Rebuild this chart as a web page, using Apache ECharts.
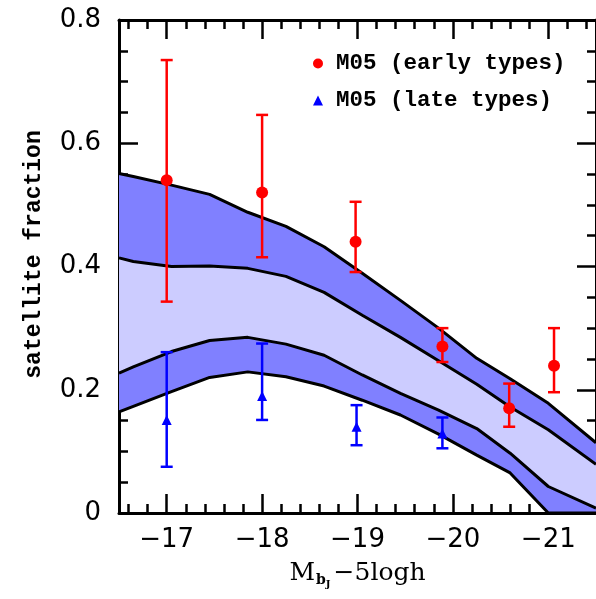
<!DOCTYPE html>
<html>
<head>
<meta charset="utf-8">
<script src="https://cdn.jsdelivr.net/npm/echarts@6/dist/echarts.min.js"></script>
<style>
  html, body { margin: 0; padding: 0; background: #fff; }
  #main { width: 596px; height: 599px; }
</style>
</head>
<body>
<div id="main"></div>
<script>
// model bands, sampled at bandX (magnitudes)
var bandX      = [-16.5, -16.65, -17.05, -17.45, -17.85, -18.25, -18.65, -19.05, -19.45, -19.85, -20.25, -20.6, -21.0, -21.5];
var outerUpper = [0.551, 0.546, 0.532, 0.517, 0.488, 0.465, 0.432, 0.389, 0.345, 0.300, 0.251, 0.218, 0.178, 0.114];
var innerUpper = [0.414, 0.408, 0.400, 0.401, 0.397, 0.384, 0.358, 0.321, 0.285, 0.247, 0.209, 0.172, 0.135, 0.079];
var innerLower = [0.227, 0.237, 0.262, 0.280, 0.285, 0.274, 0.256, 0.224, 0.194, 0.167, 0.137, 0.097, 0.043, 0.008];
var outerLower = [0.164, 0.173, 0.197, 0.220, 0.229, 0.221, 0.206, 0.183, 0.159, 0.128, 0.094, 0.065, 0.000, 0.000];

// M05 early types
var earlyX  = [-17.0, -18.0, -18.98, -19.89, -20.59, -21.06];
var earlyY  = [0.540, 0.520, 0.440, 0.270, 0.170, 0.239];
var earlyLo = [0.343, 0.415, 0.391, 0.245, 0.140, 0.196];
var earlyHi = [0.735, 0.646, 0.505, 0.300, 0.210, 0.300];

// M05 late types
var lateX  = [-17.0, -18.0, -18.99, -19.89];
var lateY  = [0.151, 0.190, 0.140, 0.129];
var lateLo = [0.075, 0.151, 0.110, 0.105];
var lateHi = [0.261, 0.275, 0.175, 0.155];

var DARK = '#8080ff', LIGHT = '#ccccff';
var chart = echarts.init(document.getElementById('main'));

function pairs(xs, ys) {
  return xs.map(function (x, i) { return [x, ys[i]]; });
}

// filled region between two sampled curves
function band(upper, lower, fill) {
  return {
    type: 'custom', z: 1, silent: true, clip: true,
    data: [[bandX[0], lower[0]]],
    renderItem: function (params, api) {
      var pts = [], i;
      for (i = 0; i < bandX.length; i++) pts.push(api.coord([bandX[i], upper[i]]));
      for (i = bandX.length - 1; i >= 0; i--) pts.push(api.coord([bandX[i], lower[i]]));
      return { type: 'polygon', shape: { points: pts }, style: { fill: fill, stroke: null } };
    }
  };
}
function curve(vals) {
  return {
    type: 'line', data: pairs(bandX, vals), symbol: 'none', silent: true, z: 3,
    lineStyle: { color: '#000', width: 3 }
  };
}
function errorBars(xs, lo, hi, color) {
  return {
    type: 'custom', z: 5, silent: true,
    encode: { x: 0, y: [1, 2] },
    data: xs.map(function (x, i) { return [x, lo[i], hi[i]]; }),
    renderItem: function (params, api) {
      var x = api.value(0);
      var p0 = api.coord([x, api.value(1)]);
      var p1 = api.coord([x, api.value(2)]);
      var w = 6;
      var st = { stroke: color, lineWidth: 2.5 };
      return {
        type: 'group', children: [
          { type: 'line', shape: { x1: p0[0], y1: p0[1], x2: p1[0], y2: p1[1] }, style: st },
          { type: 'line', shape: { x1: p0[0] - w, y1: p0[1], x2: p0[0] + w, y2: p0[1] }, style: st },
          { type: 'line', shape: { x1: p1[0] - w, y1: p1[1], x2: p1[0] + w, y2: p1[1] }, style: st }
        ]
      };
    }
  };
}

var tickLine = { color: '#000', width: 2.5 };
var labelFont = { color: '#000', fontFamily: 'DejaVu Sans', fontSize: 26 };

function xAxisCfg(pos) {
  var isBottom = pos === 'bottom';
  return {
    type: 'value', position: pos, min: -21.5, max: -16.5, inverse: true,
    axisLine: { show: true, onZero: false, lineStyle: { color: '#000', width: 3 } },
    axisTick: { inside: true, length: 19, lineStyle: tickLine },
    minorTick: { show: true, splitNumber: 5, length: 9, lineStyle: tickLine },
    splitLine: { show: false },
    axisLabel: Object.assign({
      show: isBottom, margin: 14, showMinLabel: false, showMaxLabel: false,
      formatter: function (v) {
        return Math.abs(v - Math.round(v)) < 1e-6 ? '\u2212' + Math.abs(Math.round(v)) : '';
      }
    }, labelFont),
    name: isBottom ? '{m|M}{s|b}{j|J}{m|\u22125logh}' : '',
    nameLocation: 'middle', nameGap: 44,
    nameTextStyle: {
      color: '#000',
      rich: {
        m: { fontFamily: 'DejaVu Serif', fontSize: 25, color: '#000' },
        s: { fontFamily: 'DejaVu Serif', fontSize: 14, fontWeight: 'bold', color: '#000', padding: [15, 0, 0, 1] },
        j: { fontFamily: 'DejaVu Serif', fontSize: 10, fontWeight: 'bold', color: '#000', padding: [22, 3, 0, 0] }
      }
    }
  };
}
function yAxisCfg(pos) {
  var isLeft = pos === 'left';
  return {
    type: 'value', position: pos, min: 0, max: 0.8, interval: 0.2,
    axisLine: { show: true, onZero: false, lineStyle: { color: '#000', width: 3 } },
    axisTick: { inside: true, length: 19, lineStyle: tickLine },
    minorTick: { show: true, splitNumber: 4, length: 9, lineStyle: tickLine },
    splitLine: { show: false },
    axisLabel: Object.assign({
      show: isLeft, margin: 18,
      formatter: function (v) { return v === 0 ? '0' : v.toFixed(1); }
    }, labelFont),
    name: isLeft ? 'satellite fraction' : '',
    nameLocation: 'middle', nameRotate: 90, nameGap: 73,
    nameTextStyle: {
      color: '#000', fontFamily: 'Liberation Mono', fontWeight: 'bold', fontSize: 23,
      padding: [0, 0, 0, 24]
    }
  };
}

var option = {
  animation: false,
  backgroundColor: '#fff',
  grid: { left: 119, top: 20, right: -2, bottom: 86 },
  xAxis: [xAxisCfg('bottom'), xAxisCfg('top')],
  yAxis: [yAxisCfg('left'), yAxisCfg('right')],
  legend: {
    orient: 'vertical', left: 308, top: 47, itemGap: 14,
    itemWidth: 10, itemHeight: 10,
    textStyle: {
      fontFamily: 'Liberation Mono', fontWeight: 'bold', fontSize: 22.5, color: '#000',
      lineHeight: 22, padding: [0, 0, 0, 8]
    },
    data: [
      { name: 'M05 (early types)', icon: 'circle' },
      { name: 'M05 (late types)', icon: 'triangle' }
    ]
  },
  series: [
    band(innerLower, outerLower, DARK),
    band(innerUpper, innerLower, LIGHT),
    band(outerUpper, innerUpper, DARK),
    curve(outerLower), curve(innerLower), curve(innerUpper), curve(outerUpper),
    errorBars(earlyX, earlyLo, earlyHi, '#ff0000'),
    errorBars(lateX, lateLo, lateHi, '#0000ff'),
    {
      name: 'M05 (early types)', type: 'scatter', z: 6, symbol: 'circle', symbolSize: 12,
      itemStyle: { color: '#ff0000', opacity: 1 }, data: pairs(earlyX, earlyY)
    },
    {
      name: 'M05 (late types)', type: 'scatter', z: 6, symbol: 'triangle', symbolSize: 10,
      itemStyle: { color: '#0000ff', opacity: 1 }, data: pairs(lateX, lateY)
    }
  ]
};
chart.setOption(option);
</script>
</body>
</html>
